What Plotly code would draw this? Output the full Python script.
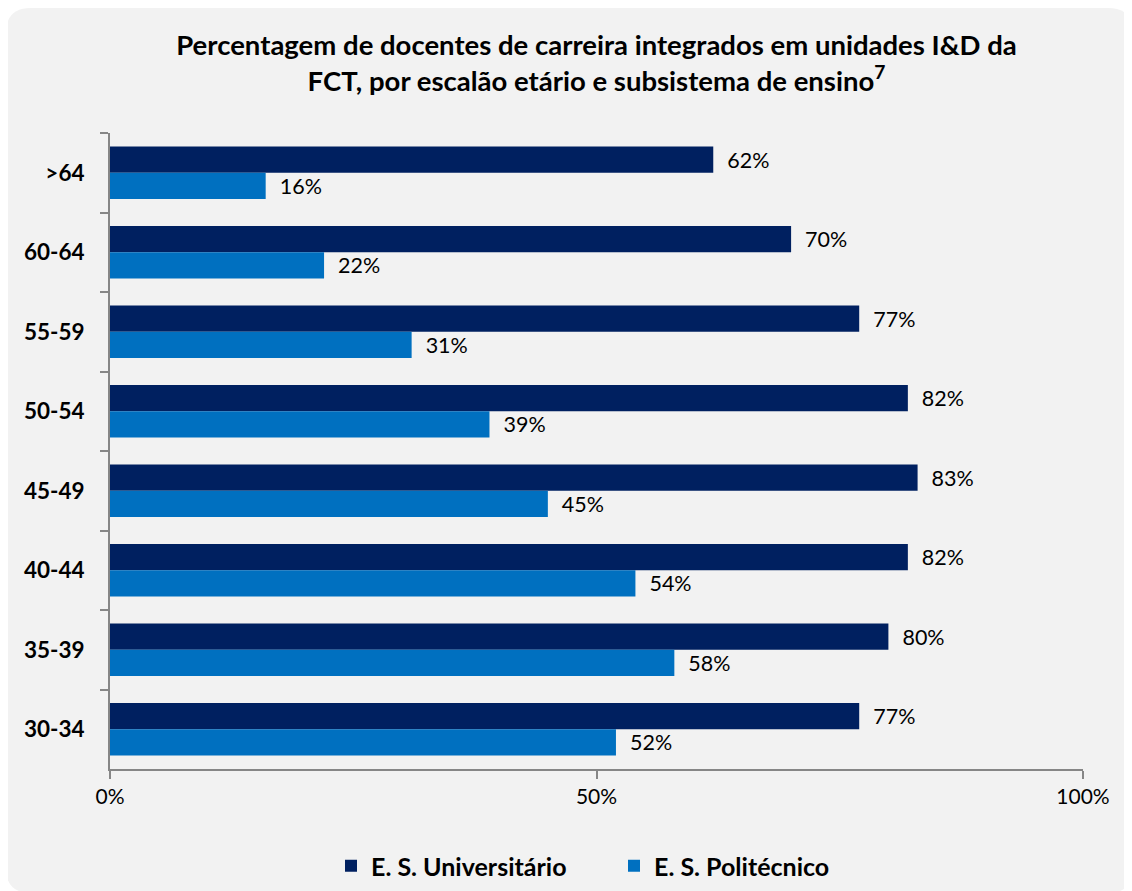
import plotly.graph_objects as go

categories = [">64", "60-64", "55-59", "50-54", "45-49", "40-44", "35-39", "30-34"]
universitario = [62, 70, 77, 82, 83, 82, 80, 77]
politecnico = [16, 22, 31, 39, 45, 54, 58, 52]
series_names = ["E. S. Universitário", "E. S. Politécnico"]
x_ticks = [0, 50, 100]
x_tick_labels = ["0%", "50%", "100%"]

# page has an 8px body margin; figure sized to fill the rest of the window
OFF = 8
W, H = 1132 - OFF, 891 - OFF
L, R, T, B = 110 - OFF, 49, 133 - OFF, 122
PW, PH = W - L - R, H - T - B

def px(x):
    return (x - OFF - L) / PW

def py(y):
    return 1 - (y - OFF - T) / PH

FONT = "Lato, Open Sans, sans-serif"
PAD = "\u00a0\u00a0"

fig = go.Figure()
fig.add_trace(go.Bar(
    y=categories, x=universitario, orientation="h", name=series_names[0],
    marker=dict(color="#002060", line=dict(width=0)),
    text=[f"{PAD}{v}%" for v in universitario], textposition="outside",
    textfont=dict(size=21.5, color="#000000", family=FONT),
    cliponaxis=False,
))
fig.add_trace(go.Bar(
    y=categories, x=politecnico, orientation="h", name=series_names[1],
    marker=dict(color="#0070C0", line=dict(width=0)),
    text=[f"{PAD}{v}%" for v in politecnico], textposition="outside",
    textfont=dict(size=21.5, color="#000000", family=FONT),
    cliponaxis=False,
))

# rounded background
x0, y0, x1, y1, r = px(6), py(8), px(1133), py(893), 25
rx, ry = r / PW, r / PH
path = (f"M {x0+rx},{y0} L {x1-rx},{y0} Q {x1},{y0} {x1},{y0-ry} "
        f"L {x1},{y1+ry} Q {x1},{y1} {x1-rx},{y1} "
        f"L {x0+rx},{y1} Q {x0},{y1} {x0},{y1+ry} "
        f"L {x0},{y0-ry} Q {x0},{y0} {x0+rx},{y0} Z")

fig.update_layout(
    width=W, height=H,
    margin=dict(l=L, r=R, t=T, b=B, autoexpand=False),
    paper_bgcolor="#ffffff",
    plot_bgcolor="rgba(0,0,0,0)",
    barmode="group", bargap=0.34, bargroupgap=0,
    font=dict(family=FONT, color="#000000"),
    title=dict(
        text="<b>Percentagem de docentes de carreira integrados em unidades I&D da<br>FCT, por escalão etário e subsistema de ensino<sup>7</sup></b>",
        x=0.5, xref="paper", xanchor="center", y=1 - 47 / H, yanchor="top",
        font=dict(size=27.5, family=FONT, color="#000000"),
    ),
    shapes=[dict(type="path", path=path, xref="paper", yref="paper",
                 fillcolor="#f2f2f2", line=dict(width=0), layer="below")],
    xaxis=dict(
        range=[0, 100], tickvals=x_ticks, ticktext=x_tick_labels,
        showgrid=False, zeroline=False, showline=True, linecolor="#868686", linewidth=2,
        ticks="outside", ticklen=8, tickcolor="#868686", tickwidth=2,
        tickfont=dict(size=21, family=FONT), fixedrange=True,
    ),
    yaxis=dict(
        categoryorder="array", categoryarray=categories, autorange="reversed",
        showgrid=False, zeroline=False, showline=True, linecolor="#868686", linewidth=2,
        ticks="outside", ticklen=8, tickcolor="#868686", tickwidth=2, tickson="boundaries",
        tickfont=dict(size=22.5, family=FONT, weight="bold"), ticklabelstandoff=19,
        fixedrange=True,
    ),
    legend=dict(
        orientation="h", x=px(331), xanchor="left", y=py(866), yanchor="middle",
        font=dict(size=25, family=FONT, weight="bold"), bgcolor="rgba(0,0,0,0)",
        itemwidth=30, entrywidth=238, entrywidthmode="pixels",
    ),
    showlegend=True,
)

fig.write_html("out.html")
